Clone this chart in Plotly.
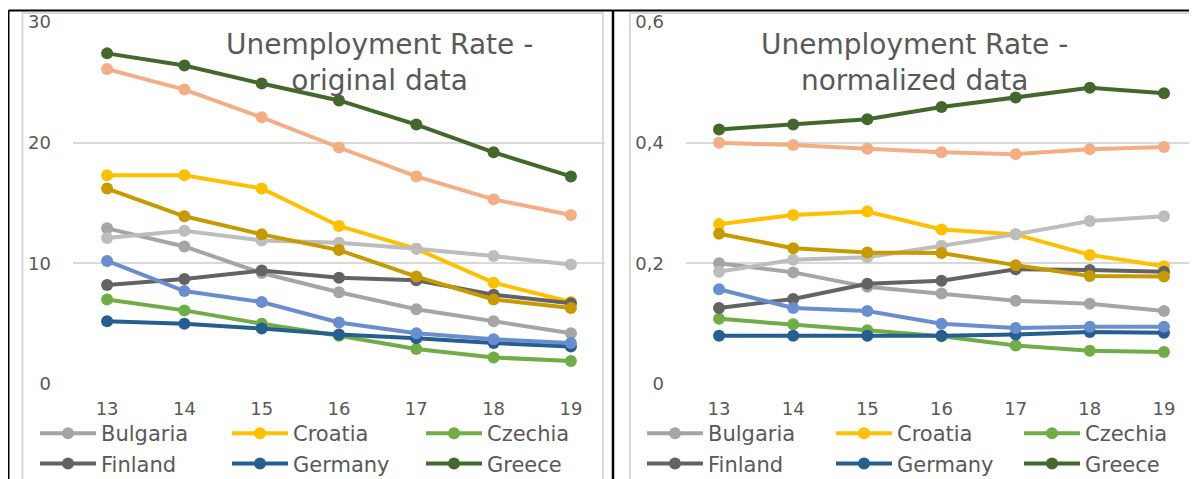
import plotly.graph_objects as go

years = ["13", "14", "15", "16", "17", "18", "19"]

countries = ["Bulgaria", "Croatia", "Czechia", "Finland", "Germany", "Greece",
             "Hungary", "Italy", "Portugal", "Spain"]
colors = ["#A5A5A5", "#FFC000", "#70AD47", "#636363", "#255E91", "#43682B",
          "#698ED0", "#BDBDBD", "#C79A00", "#F3AE84"]

# original unemployment rate, %
orig_bulgaria = [12.9, 11.4, 9.2, 7.6, 6.2, 5.2, 4.2]
orig_croatia = [17.3, 17.3, 16.2, 13.1, 11.2, 8.4, 6.8]
orig_czechia = [7.0, 6.1, 5.0, 4.0, 2.9, 2.2, 1.9]
orig_finland = [8.2, 8.7, 9.4, 8.8, 8.6, 7.4, 6.7]
orig_germany = [5.2, 5.0, 4.6, 4.1, 3.8, 3.4, 3.1]
orig_greece = [27.4, 26.4, 24.9, 23.5, 21.5, 19.2, 17.2]
orig_hungary = [10.2, 7.7, 6.8, 5.1, 4.2, 3.7, 3.4]
orig_italy = [12.1, 12.7, 11.9, 11.7, 11.2, 10.6, 9.9]
orig_portugal = [16.2, 13.9, 12.4, 11.1, 8.9, 7.0, 6.3]
orig_spain = [26.1, 24.4, 22.1, 19.6, 17.2, 15.3, 14.0]

# normalized data
norm_bulgaria = [0.200, 0.185, 0.161, 0.150, 0.138, 0.133, 0.121]
norm_croatia = [0.265, 0.280, 0.286, 0.256, 0.248, 0.214, 0.195]
norm_czechia = [0.108, 0.099, 0.089, 0.079, 0.064, 0.055, 0.053]
norm_finland = [0.126, 0.141, 0.166, 0.171, 0.190, 0.189, 0.186]
norm_germany = [0.080, 0.080, 0.080, 0.080, 0.082, 0.086, 0.085]
norm_greece = [0.422, 0.430, 0.439, 0.459, 0.475, 0.491, 0.482]
norm_hungary = [0.157, 0.126, 0.121, 0.100, 0.093, 0.095, 0.095]
norm_italy = [0.186, 0.206, 0.210, 0.229, 0.248, 0.270, 0.278]
norm_portugal = [0.249, 0.225, 0.218, 0.217, 0.197, 0.179, 0.178]
norm_spain = [0.400, 0.396, 0.390, 0.384, 0.381, 0.389, 0.393]

orig = [orig_bulgaria, orig_croatia, orig_czechia, orig_finland, orig_germany,
        orig_greece, orig_hungary, orig_italy, orig_portugal, orig_spain]
norm = [norm_bulgaria, norm_croatia, norm_czechia, norm_finland, norm_germany,
        norm_greece, norm_hungary, norm_italy, norm_portugal, norm_spain]

# the page body has an 8px margin, so the figure is 8px smaller each way
# and page pixel positions are converted to paper fractions
OFF = 8
W, H = 1197 - OFF, 479 - OFF
def px(x):
    return (x - OFF) / W
def py(y):
    return (H - (y - OFF)) / H

FONT = "DejaVu Sans"
GREY = "#595959"

fig = go.Figure()

# which legend (column) each of the first six countries goes to
left_leg = ["legend", "legend2", "legend3", "legend", "legend2", "legend3"]
right_leg = ["legend4", "legend5", "legend6", "legend4", "legend5", "legend6"]

for i, c in enumerate(countries):
    shown = i < 6
    fig.add_trace(go.Scatter(
        x=years, y=orig[i], name=c, mode="lines+markers",
        line=dict(color=colors[i], width=4), marker=dict(size=12, color=colors[i]),
        xaxis="x", yaxis="y", showlegend=shown,
        legend=left_leg[i] if shown else None))
    fig.add_trace(go.Scatter(
        x=years, y=norm[i], name=c, mode="lines+markers",
        line=dict(color=colors[i], width=4), marker=dict(size=12, color=colors[i]),
        xaxis="x2", yaxis="y2", showlegend=shown,
        legend=right_leg[i] if shown else None))

ydom = [py(384), py(22)]
axfont = dict(family=FONT, size=18, color=GREY)
xcommon = dict(type="category", showgrid=False, zeroline=False, showline=False, automargin=False,
               ticks="outside", ticklen=8, tickcolor="rgba(0,0,0,0)", tickfont=axfont)
ycommon = dict(showgrid=True, gridcolor="#D9D9D9", gridwidth=1.5, zeroline=False, automargin=False,
               showline=False, tickfont=axfont, ticklabelstandoff=21)

fig.update_layout(
    width=W, height=H,
    margin=dict(l=0, r=0, t=0, b=0, autoexpand=False),
    paper_bgcolor="white", plot_bgcolor="white",
    xaxis=dict(domain=[px(73), px(605)], anchor="y", **xcommon),
    yaxis=dict(domain=ydom, anchor="x", range=[0, 30], tickvals=[0, 10, 20, 30], **ycommon),
    xaxis2=dict(domain=[px(686), 1.0], anchor="y2", **xcommon),
    yaxis2=dict(domain=ydom, anchor="x2", range=[0, 0.6], tickvals=[0, 0.2, 0.4, 0.6],
                ticktext=["0", "0,2", "0,4", "0,6"], **ycommon),
)

legfont = dict(family=FONT, size=21, color=GREY)
# page x where each legend column's text starts
leg_text_x = [101, 293, 487, 708, 897, 1085]
IW = 56
for k, tx in enumerate(leg_text_x):
    key = "legend" if k == 0 else "legend%d" % (k + 1)
    fig.update_layout({key: dict(x=px(tx - IW - 10), xanchor="left", y=py(413), yanchor="top",
                                 orientation="v", font=legfont, bgcolor="rgba(0,0,0,0)",
                                 borderwidth=0, itemwidth=IW, tracegroupgap=0)})

tfont = dict(family=FONT, size=28, color=GREY)
fig.add_annotation(text="Unemployment Rate -<br>original data", x=px(379), y=py(63),
                   xref="paper", yref="paper", xanchor="center", yanchor="middle",
                   showarrow=False, font=tfont, align="center")
fig.add_annotation(text="Unemployment Rate -<br>normalized data", x=px(914), y=py(63),
                   xref="paper", yref="paper", xanchor="center", yanchor="middle",
                   showarrow=False, font=tfont, align="center")

# panel frames
gray = dict(color="#D9D9D9", width=2)
black = dict(color="black", width=2)
fig.add_shape(type="rect", xref="paper", yref="paper", x0=px(22.5), x1=px(603),
              y0=-0.05, y1=py(13), line=gray, layer="below")
fig.add_shape(type="rect", xref="paper", yref="paper", x0=px(630), x1=1.05,
              y0=-0.05, y1=py(13), line=gray, layer="below")
fig.add_shape(type="line", xref="paper", yref="paper", x0=px(8.5), x1=1.0,
              y0=py(10.5), y1=py(10.5), line=black)
fig.add_shape(type="line", xref="paper", yref="paper", x0=px(8.5), x1=px(8.5),
              y0=-0.05, y1=py(10.5), line=black)
fig.add_shape(type="line", xref="paper", yref="paper", x0=px(613), x1=px(613),
              y0=-0.05, y1=py(10.5), line=dict(color="black", width=2.5))

fig.write_html("out.html")
